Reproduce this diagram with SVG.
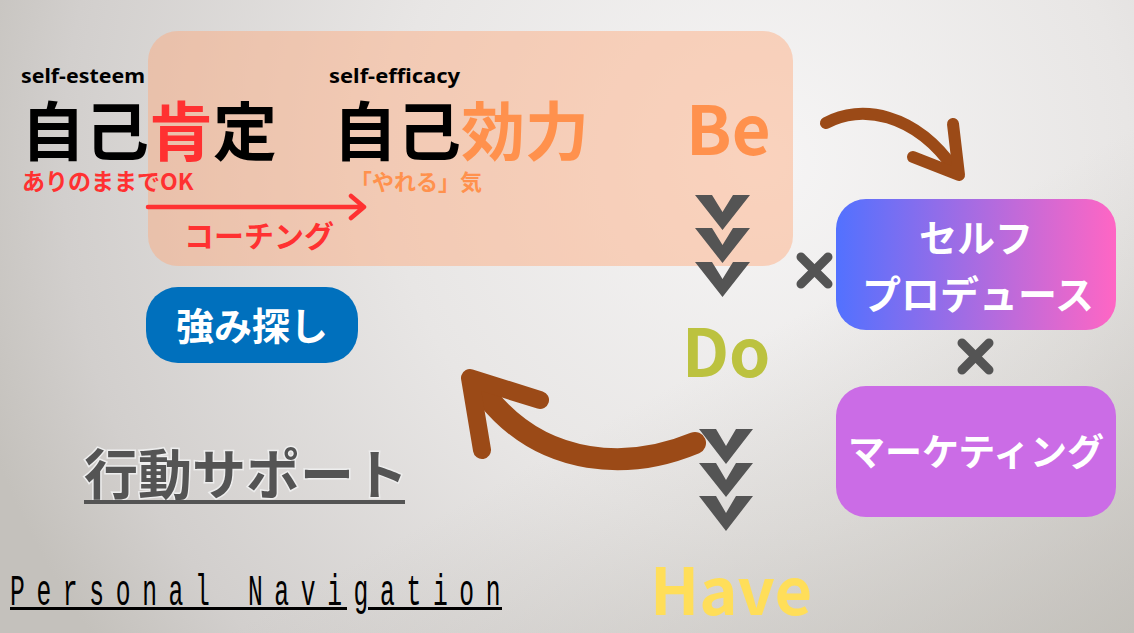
<svg xmlns="http://www.w3.org/2000/svg" width="1134" height="633" viewBox="0 0 1134 633">
<defs>
<radialGradient id="bg" cx="760" cy="160" r="820" gradientUnits="userSpaceOnUse">
<stop offset="0" stop-color="#f6f5f5"/>
<stop offset="0.45" stop-color="#e8e6e5"/>
<stop offset="0.85" stop-color="#d2cfcd"/>
<stop offset="1" stop-color="#c4c1bc"/>
</radialGradient>
<linearGradient id="bgr" x1="0" y1="0" x2="1" y2="1">
<stop offset="0.6" stop-color="#b5b2aa" stop-opacity="0"/>
<stop offset="1" stop-color="#b5b2aa" stop-opacity="0.6"/>
</linearGradient>
<linearGradient id="grad" x1="0" y1="0" x2="1" y2="0">
<stop offset="0" stop-color="#5271ff"/>
<stop offset="1" stop-color="#ff66c4"/>
</linearGradient>
<style>
text{font-family:"Noto Sans CJK JP","Noto Sans",sans-serif;font-weight:700}
.en{font-family:"Noto Sans","Noto Sans CJK JP",sans-serif;font-size:20px;fill:#000}
.big{font-size:64px;fill:#000}
.red{fill:#ff3131}
.org{fill:#ff914d}
.chev{fill:#545454}
.x{stroke:#545454;stroke-width:9;stroke-linecap:round}
.brush{fill:none;stroke:#9b4a17;stroke-linecap:round;stroke-linejoin:round}
.wt{fill:#fff;text-anchor:middle}
</style>
</defs>
<rect width="1134" height="633" fill="url(#bg)"/>
<rect width="1134" height="633" fill="url(#bgr)"/>

<g id="be-box">
<rect x="148" y="31" width="645" height="235" rx="30" fill="#ffa87a" fill-opacity="0.45"/>
</g>

<g id="self-esteem">
<text class="en" x="21" y="83" textLength="124" lengthAdjust="spacingAndGlyphs">self-esteem</text>
<text class="big" x="21" y="155">自己<tspan class="red">肯</tspan>定</text>
<text class="red" x="22" y="190" font-size="23">ありのままでOK</text>
</g>

<g id="self-efficacy">
<text class="en" x="329" y="83" textLength="131" lengthAdjust="spacingAndGlyphs">self-efficacy</text>
<text class="big" x="333" y="155">自己<tspan class="org">効力</tspan></text>
<text class="org" x="350" y="190" font-size="22">「やれる」気</text>
</g>

<g id="coaching">
<text class="red" x="184" y="247" font-size="30">コーチング</text>
</g>

<g id="be"><text class="org" x="686" y="155" font-size="67">Be</text></g>
<g id="do"><text x="682" y="377" font-size="66" fill="#bcc23f">Do</text></g>
<g id="have"><text x="650" y="615" font-size="65" fill="#ffde59">Have</text></g>

<g id="self-produce">
<rect x="836" y="199" width="280" height="131" rx="30" fill="url(#grad)"/>
<text class="wt" x="976" y="252" font-size="38">セルフ</text>
<text class="wt" x="978" y="309" font-size="39">プロデュース</text>
</g>

<g id="marketing">
<rect x="836" y="386" width="280" height="131" rx="30" fill="#cb6ce6"/>
<text class="wt" x="976" y="466" font-size="37">マーケティング</text>
</g>

<g id="strength">
<rect x="146" y="287" width="212" height="76" rx="32" fill="#0070bd"/>
<text class="wt" x="252" y="340" font-size="38">強み探し</text>
</g>

<g id="action-support">
<text x="84" y="495" font-size="54" fill="#545454" stroke="#eeeeee" stroke-width="3" paint-order="stroke">行動サポート</text>
<rect x="84" y="500" width="321" height="4" fill="#545454"/>
</g>

<g id="personal-navigation">
<text transform="translate(10,605) scale(0.56,1)" x="0" y="0" font-size="44" textLength="876" lengthAdjust="spacing" style="font-family:'Liberation Mono',monospace;font-weight:400" fill="#000">Personal Navigation</text>
<rect x="10" y="607" width="337" height="3" fill="#000"/>
<rect x="368" y="607" width="134" height="3" fill="#000"/>
</g>

<g id="connectors">
<path d="M148 207 H363 M351 196 L364 207 L351 218" fill="none" stroke="#ff3131" stroke-width="4.5" stroke-linecap="round" stroke-linejoin="round"/>
<g id="chevrons-1">
<path class="chev" d="M695 195 H712 L722.5 212 L733 195 H750 L722.5 230 Z"/>
<path class="chev" d="M695 228 H712 L722.5 245 L733 228 H750 L722.5 263 Z"/>
<path class="chev" d="M695 262 H712 L722.5 279 L733 262 H750 L722.5 297 Z"/>
</g>
<g id="chevrons-2">
<path class="chev" d="M699 429 H716 L726 446 L736 429 H753 L726 464 Z"/>
<path class="chev" d="M699 463 H716 L726 480 L736 463 H753 L726 497 Z"/>
<path class="chev" d="M699 496 H716 L726 513 L736 496 H753 L726 531 Z"/>
</g>
<line class="x" x1="801" y1="257" x2="828" y2="284"/>
<line class="x" x1="828" y1="257" x2="801" y2="284"/>
<line class="x" x1="962" y1="343" x2="989" y2="370"/>
<line class="x" x1="989" y1="343" x2="962" y2="370"/>
<path class="brush" stroke-width="12" d="M826 123 C860 104 915 112 955 170"/>
<path class="brush" stroke-width="12" d="M953 124 L959 175 L913 157"/>
<path class="brush" stroke-width="22" d="M695 443 C630 470 545 468 488 398"/>
<path class="brush" stroke-width="18" d="M540 400 L470 378 L482 450"/>
</g>
</svg>
